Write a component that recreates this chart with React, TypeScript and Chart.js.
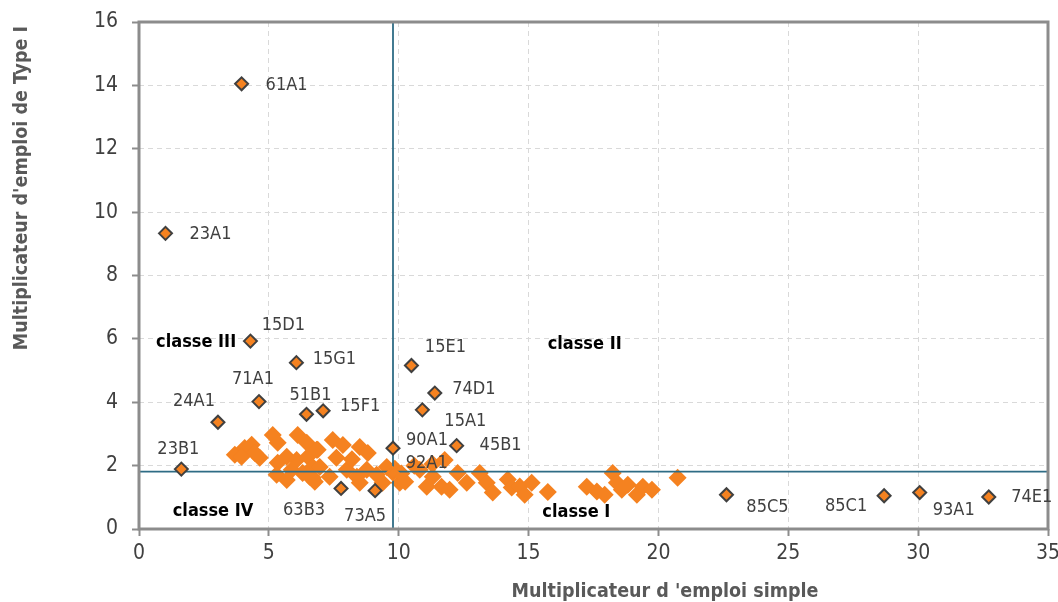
import React, { useEffect, useRef } from 'react';
import { Chart, registerables } from 'chart.js';

Chart.register(...registerables);

const FONT = '"DejaVu Sans Condensed", "DejaVu Sans", sans-serif';

// Named sectors
const namedLabels = ['61A1', '23A1', '15D1', '15G1', '71A1', '24A1', '51B1', '15F1', '15E1', '74D1', '15A1', '90A1', '45B1', '92A1', '23B1', '63B3', '73A5', '85C5', '85C1', '93A1', '74E1'];
const namedX = [3.95, 1.02, 4.29, 6.06, 4.62, 3.04, 6.45, 7.09, 10.49, 11.39, 10.91, 9.78, 12.23, 9.77, 1.63, 7.78, 9.09, 22.62, 28.69, 30.06, 32.72];
const namedY = [14.05, 9.33, 5.93, 5.25, 4.02, 3.37, 3.62, 3.73, 5.16, 4.29, 3.76, 2.55, 2.63, 1.75, 1.89, 1.28, 1.21, 1.08, 1.05, 1.15, 1.01];

// Other sectors (unlabelled)
const clusterX = [
  3.69, 4.07, 4.34, 4.46, 4.65, 3.95,
  5.15, 5.34, 6.11, 6.46, 5.34, 5.69, 6.07, 6.50, 5.30, 5.88, 6.30, 6.69, 6.69, 6.88, 5.69, 6.57,
  6.84, 7.46, 7.85, 8.50, 8.81, 6.96, 7.34, 8.00, 8.39, 8.77, 9.15, 9.54, 10.04, 6.77, 8.50, 9.38, 7.60, 8.20, 9.85, 10.10,
  10.25, 10.81, 11.31, 11.77, 11.65, 12.27, 12.62, 13.12, 13.39, 13.62, 11.96, 11.08, 10.60, 11.30,
  14.20, 14.35, 14.66, 14.85, 15.12, 15.74, 17.24, 17.63, 17.93, 18.24, 18.40, 18.59, 18.82, 19.17, 19.40, 19.75, 20.74,
];
const clusterY = [
  2.34, 2.56, 2.66, 2.40, 2.25, 2.28,
  2.97, 2.72, 2.97, 2.72, 2.09, 2.28, 2.18, 2.28, 1.71, 1.87, 1.77, 1.62, 1.96, 2.50, 1.55, 1.65,
  2.50, 2.81, 2.65, 2.59, 2.40, 1.96, 1.65, 1.87, 1.65, 1.87, 1.71, 1.96, 1.46, 1.49, 1.46, 1.46, 2.25, 2.20, 1.90, 1.75,
  1.49, 1.87, 1.65, 2.18, 1.33, 1.77, 1.46, 1.77, 1.46, 1.15, 1.24, 1.33, 2.00, 2.05,
  1.56, 1.31, 1.34, 1.08, 1.46, 1.17, 1.33, 1.18, 1.08, 1.77, 1.46, 1.24, 1.40, 1.08, 1.33, 1.24, 1.62,
];

// Means (quadrant separators)
const meanX = 9.78;
const meanY = 1.81;

// Axis ranges / ticks
const xMin = 0, xMax = 35, xStep = 5;
const yMin = 0, yMax = 16, yStep = 2;

const xTitle = "Multiplicateur d 'emploi simple";
const yTitle = "Multiplicateur d'emploi de Type I";

// Quadrant labels (anchored in data space)
const classLabels = ['classe III', 'classe II', 'classe IV', 'classe I'];
const classX = [2.2, 17.16, 2.85, 16.84];
const classY = [5.89, 5.84, 0.55, 0.52];

// Label placement (pixel offsets of text centre from marker)
const labelOffsets: Record<string, [number, number]> = {
  '61A1': [45, 2], '23A1': [45, 1], '15D1': [33, -16], '15G1': [38, -3], '71A1': [-6, -22],
  '24A1': [-24, -21], '51B1': [4, -19], '15F1': [37, -4], '15E1': [34, -18], '74D1': [39, -4],
  '15A1': [43, 11], '90A1': [34, -8], '45B1': [44, 0], '92A1': [34, -10], '23B1': [-3, -20],
  '63B3': [-37, 22], '73A5': [-10, 26], '85C5': [41, 13], '85C1': [-38, 11], '93A1': [34, 18], '74E1': [43, 0],
};

const ORANGE = '#F58220';
const DARK = '#404040';
const TEAL = '#2E6C85';
const AXIS = '#8C8C8C';

const annotPlugin = {
  id: 'annot',
  afterDatasetsDraw(chart: any) {
    const ctx = chart.ctx as CanvasRenderingContext2D;
    const xs = chart.scales.x;
    const ys = chart.scales.y;
    const a = chart.chartArea;
    ctx.save();
    ctx.strokeStyle = AXIS;
    ctx.lineWidth = 3;
    ctx.strokeRect(a.left, a.top, a.right - a.left, a.bottom - a.top);

    ctx.textAlign = 'center';
    ctx.textBaseline = 'middle';
    ctx.font = `18px ${FONT}`;
    ctx.fillStyle = DARK;
    namedLabels.forEach((n, i) => {
      const off = labelOffsets[n] || [0, 0];
      ctx.fillText(n, xs.getPixelForValue(namedX[i]) + off[0], ys.getPixelForValue(namedY[i]) + off[1]);
    });

    ctx.font = `bold 18px ${FONT}`;
    ctx.fillStyle = '#000000';
    classLabels.forEach((c, i) => {
      ctx.fillText(c, xs.getPixelForValue(classX[i]), ys.getPixelForValue(classY[i]));
    });

    ctx.font = `bold 19.5px ${FONT}`;
    ctx.fillStyle = '#595959';
    ctx.fillText(xTitle, 665, 592);
    ctx.translate(22, 188);
    ctx.rotate(-Math.PI / 2);
    ctx.fillText(yTitle, 0, 0);
    ctx.restore();
  },
};

export default function App() {
  const ref = useRef<HTMLCanvasElement>(null);
  useEffect(() => {
    if (!ref.current) return;
    const chart = new Chart(ref.current, {
      type: 'scatter',
      data: {
        datasets: [
          {
            label: 'named',
            data: namedX.map((x, i) => ({ x, y: namedY[i] })),
            pointStyle: 'rectRot',
            pointRadius: 6.5,
            pointBackgroundColor: ORANGE,
            pointBorderColor: (c: any) => (namedLabels[c.dataIndex] === '92A1' ? ORANGE : DARK),
            pointBorderWidth: 2,
            order: 0,
          },
          {
            label: 'vmean',
            data: [{ x: meanX, y: yMin }, { x: meanX, y: yMax }],
            showLine: true,
            borderColor: TEAL,
            borderWidth: 1.8,
            pointRadius: 0,
            order: 1,
          },
          {
            label: 'hmean',
            data: [{ x: xMin, y: meanY }, { x: xMax, y: meanY }],
            showLine: true,
            borderColor: TEAL,
            borderWidth: 1.8,
            pointRadius: 0,
            order: 1,
          },
          {
            label: 'others',
            data: clusterX.map((x, i) => ({ x, y: clusterY[i] })),
            pointStyle: 'rectRot',
            pointRadius: 9,
            pointBackgroundColor: ORANGE,
            pointBorderWidth: 0,
            pointBorderColor: ORANGE,
            order: 2,
          },
        ],
      },
      options: {
        responsive: false,
        animation: false,
        events: [],
        layout: { padding: { left: 0, right: 10, top: 22, bottom: 0 } },
        plugins: { legend: { display: false }, tooltip: { enabled: false } },
        scales: {
          x: {
            type: 'linear',
            min: xMin,
            max: xMax,
            ticks: { stepSize: xStep, color: DARK, font: { family: FONT, size: 21 }, padding: 5 },
            grid: { color: '#D9D9D9', lineWidth: 1, tickColor: AXIS, tickWidth: 2, tickLength: 7 },
            border: { display: false, dash: [5, 4] },
            afterFit: (s: any) => { s.height = 73; s.paddingLeft = 0; s.paddingRight = 0; },
          },
          y: {
            type: 'linear',
            min: yMin,
            max: yMax,
            ticks: { stepSize: yStep, color: DARK, font: { family: FONT, size: 21 }, padding: 14 },
            grid: { color: '#D9D9D9', lineWidth: 1, tickColor: AXIS, tickWidth: 2, tickLength: 7 },
            border: { display: false, dash: [5, 4] },
            afterFit: (s: any) => { s.width = 139; s.paddingTop = 0; s.paddingBottom = 0; },
          },
        },
      },
      plugins: [annotPlugin],
    });
    return () => chart.destroy();
  }, []);
  return (
    <div style={{ position: 'absolute', left: 0, top: 0, width: 1058, height: 602, background: '#fff' }}>
      <canvas ref={ref} width={1058} height={602} />
    </div>
  );
}
